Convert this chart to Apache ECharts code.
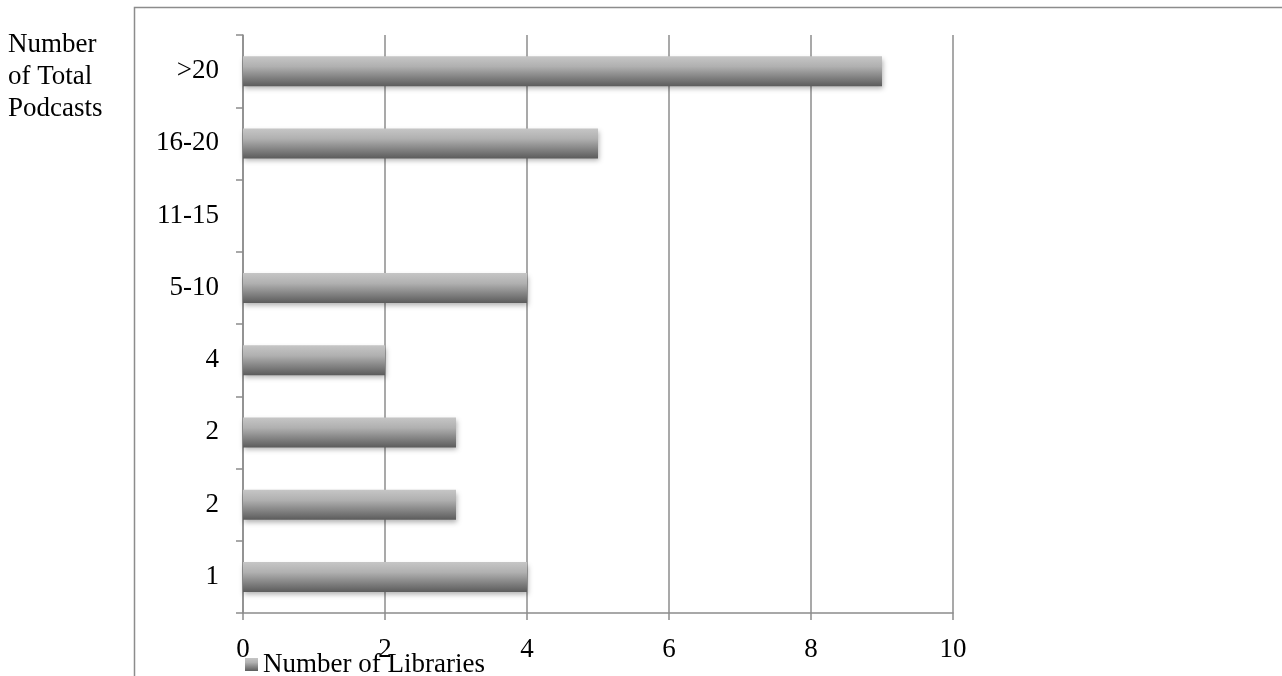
<!DOCTYPE html>
<html>
<head>
<meta charset="utf-8">
<style>
  html, body { margin: 0; padding: 0; background: #fff; }
  #chart { width: 1282px; height: 676px; }
</style>
<script src="https://cdn.jsdelivr.net/npm/echarts@6/dist/echarts.min.js"></script>
</head>
<body>
<div id="chart"></div>
<script>
// Podcast counts, listed bottom to top as the category axis draws them
const categories = ['1', '2', '2', '4', '5-10', '11-15', '16-20', '>20'];
const libraries = [4, 3, 3, 2, 4, 0, 5, 9];
const xTicks = { min: 0, max: 10, interval: 2 };
const seriesName = 'Number of Libraries';
const axisTitle = 'Number\nof Total\nPodcasts';

const FONT = '"Liberation Serif", "DejaVu Serif", serif';
const FONT_SIZE = 27;
const GRAY = '#8c8c8c';

const barFill = new echarts.graphic.LinearGradient(0, 0, 0, 1, [
  { offset: 0, color: '#c6c6c6' },
  { offset: 0.35, color: '#b0b0b0' },
  { offset: 1, color: '#5c5c5c' }
]);

const chart = echarts.init(document.getElementById('chart'), null, { renderer: 'canvas' });
chart.setOption({
  animation: false,
  backgroundColor: '#ffffff',
  grid: { left: 243, right: 329, top: 35, bottom: 63, containLabel: false },
  legend: {
    data: [seriesName],
    left: 240,
    top: 646,
    icon: 'rect',
    itemWidth: 13,
    itemHeight: 13,
    textStyle: { fontFamily: FONT, fontSize: FONT_SIZE, color: '#000' }
  },
  xAxis: {
    type: 'value',
    min: xTicks.min,
    max: xTicks.max,
    interval: xTicks.interval,
    axisLine: { show: true, lineStyle: { color: GRAY, width: 1.5 } },
    axisTick: { show: true, length: 7, lineStyle: { color: GRAY, width: 1.5 } },
    splitLine: { show: true, lineStyle: { color: GRAY, width: 1.5 } },
    axisLabel: { fontFamily: FONT, fontSize: FONT_SIZE, color: '#000', margin: 23 }
  },
  yAxis: {
    type: 'category',
    data: categories,
    axisLine: { show: true, lineStyle: { color: GRAY, width: 1.5 } },
    axisTick: { show: true, length: 7, alignWithLabel: false, lineStyle: { color: GRAY, width: 1.5 } },
    axisLabel: { fontFamily: FONT, fontSize: FONT_SIZE, color: '#000', margin: 24 },
    splitLine: { show: false }
  },
  series: [{
    name: seriesName,
    type: 'bar',
    data: libraries,
    barWidth: 30,
    itemStyle: {
      color: barFill,
      shadowColor: 'rgba(0,0,0,0.3)',
      shadowBlur: 5,
      shadowOffsetX: 1,
      shadowOffsetY: 3
    }
  }],
  graphic: [
    {
      type: 'polyline',
      silent: true,
      shape: { points: [[134.5, 676], [134.5, 7.5], [1282, 7.5]] },
      style: { stroke: GRAY, lineWidth: 1.5, fill: null }
    },
    {
      type: 'text',
      left: 8,
      top: 29,
      silent: true,
      style: {
        text: axisTitle,
        fontFamily: FONT,
        fontSize: FONT_SIZE,
        lineHeight: 32,
        fill: '#000'
      }
    }
  ]
});
</script>
</body>
</html>
